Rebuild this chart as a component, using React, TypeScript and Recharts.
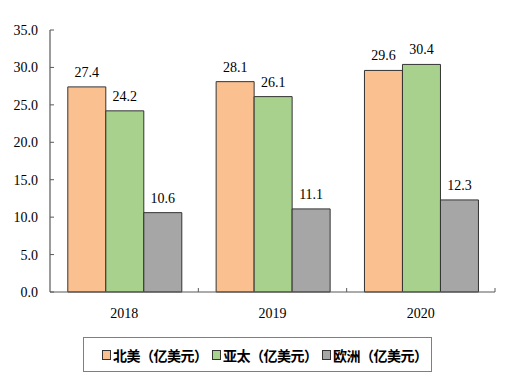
import { BarChart, Bar, XAxis, YAxis, LabelList } from 'recharts'

// ─── Data ────────────────────────────────────────────────────────────────────

const years = ['2018', '2019', '2020']
const northAmerica = [27.4, 28.1, 29.6]
const asiaPacific = [24.2, 26.1, 30.4]
const europe = [10.6, 11.1, 12.3]
const yTicks = [0, 5, 10, 15, 20, 25, 30, 35]

const seriesNames = ['北美（亿美元）', '亚太（亿美元）', '欧洲（亿美元）']
const seriesColors = ['#fac090', '#a9d18e', '#a6a6a6']

const data = years.map((y, i) => ({
  year: y,
  na: northAmerica[i],
  ap: asiaPacific[i],
  eu: europe[i],
}))

// ─── Layout ──────────────────────────────────────────────────────────────────

const W = 508
const H = 387
const PLOT_LEFT = 50
const PLOT_RIGHT = 495
const HALF_BAND = (PLOT_RIGHT - PLOT_LEFT) / years.length / 2
const AXIS_COLOR = '#595959'
const SERIF = 'Liberation Serif, Times New Roman, serif'

function YTick({ x, y, payload }: any) {
  return (
    <g>
      <line x1={x} x2={x + 4} y1={y} y2={y} stroke={AXIS_COLOR} strokeWidth={1} />
      <text
        x={x - 12}
        y={y + 5}
        textAnchor="end"
        fontSize={14}
        style={{ fontFamily: SERIF }}
        fill="#000"
      >
        {Number(payload.value).toFixed(1)}
      </text>
    </g>
  )
}

function XTick({ x, y, payload }: any) {
  const bx = x + HALF_BAND
  return (
    <g>
      <line x1={bx} x2={bx} y1={y} y2={y - 4} stroke={AXIS_COLOR} strokeWidth={1} />
      <text
        x={x}
        y={y + 26}
        textAnchor="middle"
        fontSize={14}
        style={{ fontFamily: SERIF }}
        fill="#000"
      >
        {payload.value}
      </text>
    </g>
  )
}

const fmt = (v: any) => Number(v).toFixed(1)

export default function App() {
  const keys = ['na', 'ap', 'eu']
  return (
    <div style={{ position: 'absolute', left: 0, top: 0, width: W, height: H, background: '#fff' }}>
      <BarChart
        width={W}
        height={H}
        data={data}
        margin={{ top: 30, right: W - PLOT_RIGHT, bottom: 65, left: 0 }}
        barCategoryGap="12%"
        barGap={0}
      >
        <XAxis
          dataKey="year"
          height={30}
          tickSize={0}
          tickMargin={0}
          tick={<XTick />}
          axisLine={{ stroke: AXIS_COLOR, strokeWidth: 1.2 }}
          tickLine={false}
        />
        <YAxis
          width={PLOT_LEFT}
          domain={[0, 35]}
          ticks={yTicks}
          tickSize={0}
          tickMargin={0}
          tick={<YTick />}
          axisLine={{ stroke: AXIS_COLOR, strokeWidth: 1.2 }}
          tickLine={false}
          interval={0}
        />
        {keys.map((k, i) => (
          <Bar
            key={k}
            dataKey={k}
            name={seriesNames[i]}
            fill={seriesColors[i]}
            stroke="#333"
            strokeWidth={1}
            isAnimationActive={false}
          >
            <LabelList
              dataKey={k}
              position="top"
              offset={10}
              formatter={fmt}
              style={{ fontSize: 14, fontFamily: SERIF, fill: '#000' }}
            />
          </Bar>
        ))}
      </BarChart>

      {/* Legend box */}
      <div
        style={{
          position: 'absolute',
          left: 83,
          top: 337,
          width: 349,
          height: 35,
          boxSizing: 'border-box',
          border: '1.5px solid #7f7f7f',
          fontFamily: '"Noto Sans CJK SC", sans-serif',
          fontWeight: 700,
          fontSize: 14,
        }}
      >
        {seriesNames.map((n, i) => (
          <div
            key={n}
            style={{
              position: 'absolute',
              left: 18 + i * 110,
              top: 0,
              height: 33,
              display: 'flex',
              alignItems: 'center',
              whiteSpace: 'nowrap',
              letterSpacing: -0.5,
            }}
          >
            <span
              style={{
                display: 'inline-block',
                width: 7,
                height: 8,
                background: seriesColors[i],
                border: '1px solid #333',
                marginRight: 2,
              }}
            />
            {n}
          </div>
        ))}
      </div>
    </div>
  )
}
